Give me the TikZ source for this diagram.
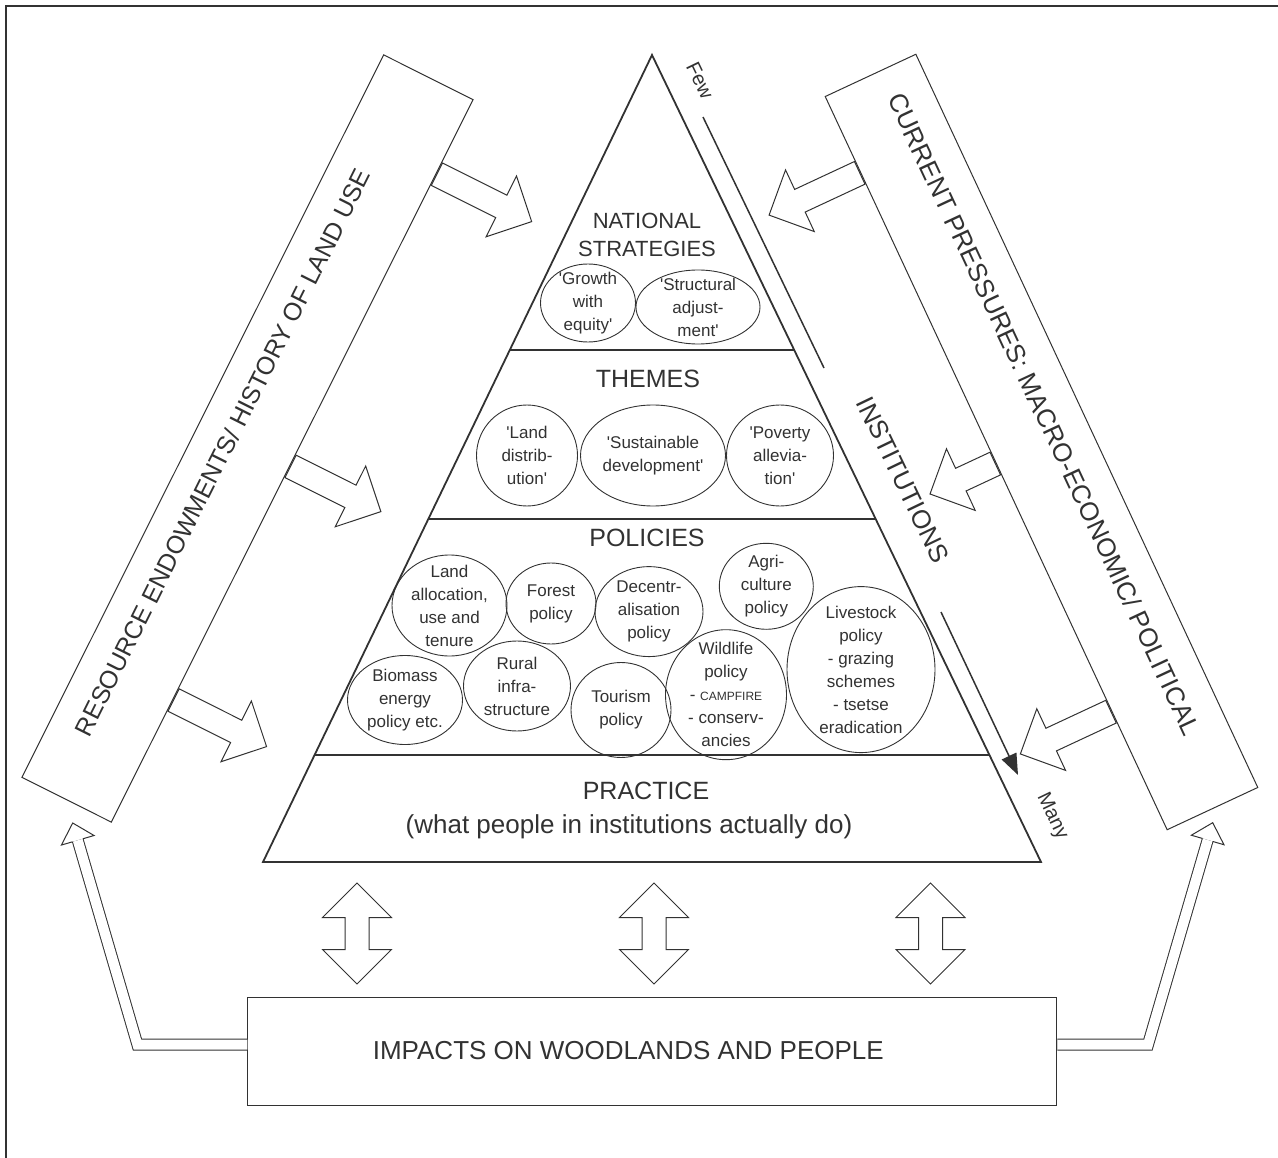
\documentclass[tikz,border=0pt]{standalone}
\usepackage{fontspec}
\setmainfont{Liberation Sans}
\usetikzlibrary{shapes.geometric,shapes.arrows,arrows.meta,calc,positioning}

\definecolor{ink}{RGB}{50,50,50}
\newcommand{\q}{\textquotesingle}

\begin{document}
\begin{tikzpicture}[x=1pt,y=-1pt,
    every node/.style={text=ink},
    pyr/.style={draw=ink,line width=1.8pt},
    topic/.style={font=\fontsize{25}{30}\selectfont},
    side/.style={draw=ink,line width=1pt,minimum width=808pt,minimum height=100pt,inner sep=0pt},
    sidetext/.style={font=\fontsize{25}{30}\selectfont},
    bubble/.style={ellipse,draw=ink,line width=0.9pt,inner sep=0pt},
    bubtext/.style={align=center,inner sep=0pt,font=\fontsize{17}{23}\selectfont},
    push/.style={single arrow,draw=ink,line width=1pt,inner sep=12pt,single arrow head extend=21.5pt,single arrow tip angle=90,anchor=tail},
    twoway/.style={double arrow,draw=ink,line width=1pt,inner sep=11.5pt,double arrow head extend=22.5pt,double arrow tip angle=90,minimum height=101pt,rotate=90},
    loopline/.style={draw=ink,line width=1pt,double,double distance=10pt},
    loophead/.style={draw=ink,line width=1pt}]
  \useasboundingbox (0,0) rectangle (1278,1158);
  \draw[ink,line width=2pt] (6,1158) -- (6,6) -- (1278,6);

  % pyramid and its levels
  \coordinate (apex) at (652,55);
  \coordinate (bl) at (263,862);
  \coordinate (br) at (1041,862);
  \draw[pyr] (apex) -- (bl) -- (br) -- cycle;
  \foreach \f in {0.3656,0.5750,0.8674}
    \draw[pyr] ($(apex)!\f!(bl)$) -- ($(apex)!\f!(br)$);

  \node[font=\fontsize{22}{27.5}\selectfont,align=center] (natl) at (647,235) {NATIONAL\\STRATEGIES};
  \node[topic] (themes) at (648,379) {THEMES};
  \node[topic] (policies) at (647,538) {POLICIES};
  \node[topic] (practice) at (646,791) {PRACTICE};
  \node[font=\fontsize{26}{30}\selectfont] (doing) at (629,827) {(what people in institutions actually do)};

  % national strategies
  \node[bubble,minimum width=95pt,minimum height=78pt] (growth) at (588,303) {};
  \node[bubtext] (growth-t) at (growth) {\q Growth\\with\\equity\q};
  \node[bubble,minimum width=124pt,minimum height=74pt] (sap) at (698,307) {};
  \node[bubtext] (sap-t) at (sap) {\q Structural\\adjust-\\ment\q};

  % themes
  \node[bubble,minimum width=101pt,minimum height=101pt] (landdist) at (527,455.5) {};
  \node[bubtext] (landdist-t) at (landdist) {\q Land\\distrib-\\ution\q};
  \node[bubble,minimum width=145pt,minimum height=101pt] (sustain) at (653,455.5) {};
  \node[bubtext] (sustain-t) at (sustain) {\q Sustainable\\development\q};
  \node[bubble,minimum width=107pt,minimum height=101pt] (poverty) at (780,455.5) {};
  \node[bubtext] (poverty-t) at (poverty) {\q Poverty\\allevia-\\tion\q};

  % policies
  \node[bubble,minimum width=115pt,minimum height=101pt] (landuse) at (449.5,605.5) {};
  \node[bubtext] (landuse-t) at (landuse) {Land\\allocation,\\use and\\tenure};
  \node[bubble,minimum width=90pt,minimum height=81pt] (forest) at (551,603.5) {};
  \node[bubtext] (forest-t) at (forest) {Forest\\policy};
  \node[bubble,minimum width=108pt,minimum height=90pt] (decentral) at (649,611.6) {};
  \node[bubtext] (decentral-t) at (decentral) {Decentr-\\alisation\\policy};
  \node[bubble,minimum width=94pt,minimum height=86pt] (agri) at (766.3,586.3) {};
  \node[bubtext] (agri-t) at (agri) {Agri-\\culture\\policy};
  \node[bubble,minimum width=148pt,minimum height=166pt] (livestock) at (861,669.6) {};
  \node[bubtext] (livestock-t) at (livestock) {Livestock\\policy\\- grazing\\schemes\\- tsetse\\eradication};
  \node[bubble,minimum width=115pt,minimum height=89pt] (biomass) at (405,700) {};
  \node[bubtext] (biomass-t) at (biomass) {Biomass\\energy\\policy etc.};
  \node[bubble,minimum width=107pt,minimum height=90pt] (rural) at (517,686) {};
  \node[bubtext] (rural-t) at (rural) {Rural\\infra-\\structure};
  \node[bubble,minimum width=100pt,minimum height=95pt] (tourism) at (621,710) {};
  \node[bubtext] (tourism-t) at (tourism) {Tourism\\policy};
  \node[bubble,minimum width=121pt,minimum height=130pt] (wildlife) at (726,694.7) {};
  \node[bubtext] (wildlife-t) at (wildlife) {Wildlife\\policy\\- {\fontsize{12}{23}\selectfont CAMPFIRE}\\- conserv-\\ancies};

  % few to many
  \coordinate (fewtop) at (703,117);
  \coordinate (fewend) at (824,368);
  \coordinate (manystart) at (941,612);
  \coordinate (manytip) at (1018,775);
  \draw[ink,line width=1.5pt] (fewtop) -- (fewend);
  \draw[ink,line width=1.5pt,-{Triangle[length=21pt,width=16pt]}] (manystart) -- (manytip);
  \node[rotate=-64.3,font=\fontsize{20}{24}\selectfont] (few) at (700,81) {Few};
  \node[rotate=-64.3,font=\fontsize{20}{24}\selectfont] (many) at (1052,816) {Many};
  \node[rotate=-64.3,font=\fontsize{26}{30}\selectfont] (inst) at (903,480) {INSTITUTIONS};

  % outside influences
  \node[side,rotate=63.4] (res) at (247.5,438.5) {};
  \node[sidetext,rotate=63.4] (res-t) at ([shift={(-25,14)}]res.center) {RESOURCE ENDOWMENTS/ HISTORY OF LAND USE};
  \node[side,rotate=-65,minimum width=809pt] (cur) at (1041.5,442) {};
  \node[sidetext,rotate=-65,font=\fontsize{26}{30}\selectfont] (cur-t) at ([shift={(3,-28)}]cur.center) {CURRENT PRESSURES: MACRO-ECONOMIC/ POLITICAL};
  \foreach \f/\len [count=\i] in {0.897/106,0.493/101,0.170/104}
    \node[push,rotate=-26.6,minimum height=\len pt] (in\i) at ($(res.south west)!\f!(res.south east)$) {};
  \foreach \f/\len [count=\i] in {0.104/100,0.5/72,0.838/100}
    \node[push,rotate=-155,minimum height=\len pt] (pr\i) at ($(cur.south west)!\f!(cur.south east)$) {};

  % practice and impacts
  \node[twoway] (dl) at (357,933.5) {};
  \node[twoway] (dm) at (654,933.5) {};
  \node[twoway] (dr) at (930.5,933.5) {};
  \node[draw=ink,line width=1pt,minimum width=809pt,minimum height=108pt,font=\fontsize{26}{30}\selectfont] (impacts) at (652.3,1051) {IMPACTS ON WOODLANDS AND PEOPLE\hspace*{48pt}};

  % feedback
  \coordinate (ltip) at (72.7,823);
  \coordinate (lturn) at (137.4,1044.5);
  \coordinate (lbase) at ($(ltip)!18pt!(lturn)$);
  \draw[loopline] ([yshift=6.5pt]impacts.west) -- (lturn) -- (lbase);
  \draw[loophead] ($(lbase)!5.5pt!90:(ltip)$) -- ($(lbase)!17pt!90:(ltip)$) -- (ltip) -- ($(lbase)!17pt!-90:(ltip)$) -- ($(lbase)!5.5pt!-90:(ltip)$);
  \coordinate (rtip) at (1212.7,822.7);
  \coordinate (rturn) at (1148,1044.5);
  \coordinate (rbase) at ($(rtip)!18pt!(rturn)$);
  \draw[loopline] ([yshift=6.5pt]impacts.east) -- (rturn) -- (rbase);
  \draw[loophead] ($(rbase)!5.5pt!90:(rtip)$) -- ($(rbase)!17pt!90:(rtip)$) -- (rtip) -- ($(rbase)!17pt!-90:(rtip)$) -- ($(rbase)!5.5pt!-90:(rtip)$);
\end{tikzpicture}
\end{document}
